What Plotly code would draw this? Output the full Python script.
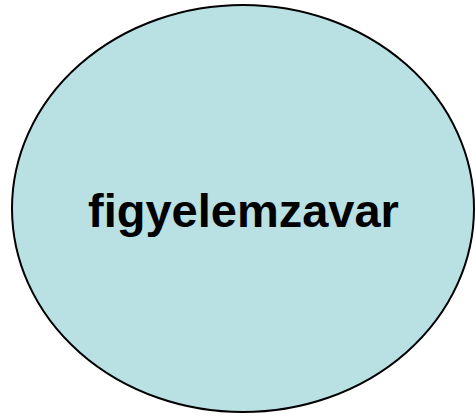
import plotly.graph_objects as go

labels = ["figyelemzavar"]

W, H = 475, 416
fig = go.Figure()
fig.add_shape(type="circle", xref="x", yref="y",
              x0=12, x1=474, y0=5, y1=412,
              fillcolor="#B9E0E3", line=dict(color="black", width=2), layer="below")
fig.add_annotation(x=243, y=210, xref="x", yref="y", text=f"<b>{labels[0]}</b>",
                   showarrow=False, font=dict(family="Liberation Sans, Arial, sans-serif", size=47, color="black"))
fig.update_layout(width=W, height=H, margin=dict(l=0, r=0, t=0, b=0),
                  paper_bgcolor="white", plot_bgcolor="white", showlegend=False)
fig.update_xaxes(range=[0, W], visible=False, fixedrange=True)
fig.update_yaxes(range=[H, 0], visible=False, fixedrange=True)
fig.write_html("out.html", config={"displayModeBar": False},
               post_script="document.body.style.margin='0';document.body.style.overflow='hidden';")
